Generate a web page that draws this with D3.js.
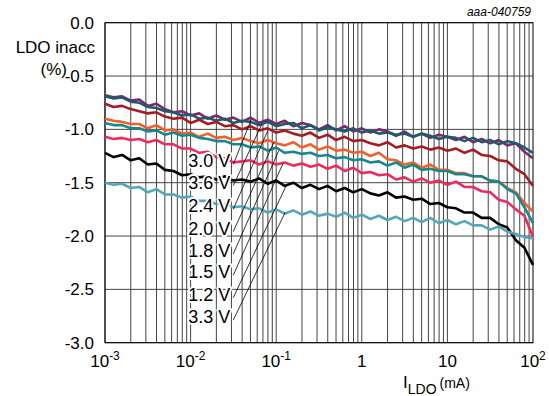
<!DOCTYPE html>
<html>
<head>
<meta charset="utf-8">
<script src="https://cdn.jsdelivr.net/npm/d3@7.9.0/dist/d3.min.js"></script>
<style>
  body { margin: 0; background: #fff; }
  text { font-family: Arial, "Liberation Sans", sans-serif; }
</style>
</head>
<body>
<div id="chart"></div>
<script>
// Data

// log10 of I_LDO (mA), one sample every 0.1 decade
const logI = [
  -3.0, -2.9, -2.8, -2.7, -2.6, -2.5, -2.4, -2.3, -2.2, -2.1,
  -2.0, -1.9, -1.8, -1.7, -1.6, -1.5, -1.4, -1.3, -1.2, -1.1,
  -1.0, -0.9, -0.8, -0.7, -0.6, -0.5, -0.4, -0.3, -0.2, -0.1,
  0.0, 0.1, 0.2, 0.3, 0.4, 0.5, 0.6, 0.7, 0.8, 0.9,
  1.0, 1.1, 1.2, 1.3, 1.4, 1.5, 1.6, 1.7, 1.8, 1.9,
  2.0
];

// LDO inaccuracy (%) per supply voltage
const v30 = [
  -0.68, -0.70, -0.69, -0.73, -0.72, -0.78, -0.76, -0.81, -0.84, -0.83,
  -0.87, -0.85, -0.90, -0.87, -0.91, -0.89, -0.93, -0.89, -0.94, -0.91,
  -0.95, -0.92, -0.97, -0.94, -0.96, -1.00, -0.96, -1.01, -0.97, -1.02,
  -0.99, -1.03, -1.00, -1.02, -1.06, -1.02, -1.07, -1.04, -1.08, -1.05,
  -1.07, -1.10, -1.07, -1.12, -1.09, -1.13, -1.10, -1.15, -1.13, -1.21,
  -1.27
];
const v36 = [
  -0.69, -0.71, -0.70, -0.74, -0.75, -0.79, -0.80, -0.83, -0.84, -0.87,
  -0.86, -0.90, -0.89, -0.92, -0.90, -0.94, -0.92, -0.93, -0.96, -0.93,
  -0.97, -0.95, -0.94, -0.99, -0.96, -1.01, -0.98, -1.00, -1.02, -0.99,
  -1.03, -1.01, -1.04, -1.03, -1.05, -1.04, -1.07, -1.04, -1.06, -1.09,
  -1.07, -1.08, -1.11, -1.08, -1.12, -1.10, -1.14, -1.11, -1.13, -1.17,
  -1.22
];
const v24 = [
  -0.76, -0.79, -0.78, -0.81, -0.83, -0.85, -0.84, -0.88, -0.90, -0.89,
  -0.94, -0.91, -0.95, -0.93, -0.97, -0.96, -1.00, -0.97, -1.01, -0.99,
  -1.03, -1.01, -1.04, -1.06, -1.03, -1.08, -1.05, -1.10, -1.07, -1.11,
  -1.10, -1.13, -1.15, -1.12, -1.17, -1.15, -1.18, -1.16, -1.19, -1.17,
  -1.20, -1.18, -1.22, -1.19, -1.24, -1.25, -1.29, -1.30, -1.37, -1.42,
  -1.53
];
const v20 = [
  -0.90, -0.92, -0.93, -0.95, -0.95, -0.99, -0.96, -1.01, -1.00, -1.04,
  -1.03, -1.07, -1.04, -1.08, -1.07, -1.10, -1.08, -1.11, -1.13, -1.10,
  -1.13, -1.15, -1.12, -1.17, -1.14, -1.19, -1.16, -1.20, -1.19, -1.22,
  -1.21, -1.25, -1.22, -1.28, -1.29, -1.33, -1.31, -1.36, -1.33, -1.38,
  -1.38, -1.41, -1.41, -1.44, -1.44, -1.48, -1.49, -1.55, -1.59, -1.69,
  -1.77
];
const v18 = [
  -0.94, -0.96, -0.96, -0.99, -0.99, -1.02, -1.01, -1.05, -1.03, -1.06,
  -1.05, -1.08, -1.09, -1.11, -1.11, -1.14, -1.14, -1.17, -1.16, -1.20,
  -1.17, -1.22, -1.21, -1.23, -1.22, -1.25, -1.24, -1.27, -1.26, -1.29,
  -1.28, -1.31, -1.30, -1.34, -1.31, -1.36, -1.33, -1.38, -1.37, -1.39,
  -1.39, -1.42, -1.42, -1.44, -1.44, -1.48, -1.49, -1.56, -1.60, -1.73,
  -1.88
];
const v15 = [
  -1.07, -1.09, -1.08, -1.10, -1.09, -1.12, -1.10, -1.14, -1.14, -1.18,
  -1.18, -1.22, -1.21, -1.26, -1.27, -1.31, -1.30, -1.29, -1.33, -1.30,
  -1.33, -1.31, -1.34, -1.32, -1.35, -1.33, -1.37, -1.34, -1.39, -1.36,
  -1.41, -1.40, -1.43, -1.42, -1.47, -1.45, -1.49, -1.46, -1.50, -1.48,
  -1.52, -1.49, -1.54, -1.54, -1.58, -1.59, -1.66, -1.68, -1.75, -1.81,
  -2.01
];
const v12 = [
  -1.22, -1.26, -1.24, -1.29, -1.27, -1.33, -1.32, -1.38, -1.39, -1.43,
  -1.42, -1.45, -1.44, -1.47, -1.44, -1.48, -1.47, -1.49, -1.46, -1.51,
  -1.48, -1.53, -1.50, -1.55, -1.52, -1.56, -1.53, -1.58, -1.55, -1.59,
  -1.56, -1.60, -1.62, -1.59, -1.64, -1.63, -1.66, -1.65, -1.70, -1.69,
  -1.73, -1.74, -1.78, -1.78, -1.83, -1.83, -1.89, -1.92, -2.04, -2.11,
  -2.27
];
const v33 = [
  -1.50, -1.52, -1.51, -1.55, -1.54, -1.59, -1.56, -1.61, -1.61, -1.64,
  -1.63, -1.67, -1.67, -1.70, -1.70, -1.73, -1.72, -1.75, -1.74, -1.78,
  -1.75, -1.79, -1.76, -1.80, -1.77, -1.81, -1.79, -1.82, -1.78, -1.83,
  -1.80, -1.84, -1.81, -1.85, -1.82, -1.86, -1.83, -1.87, -1.83, -1.88,
  -1.85, -1.89, -1.86, -1.90, -1.90, -1.94, -1.91, -1.96, -1.98, -2.01,
  -2.02
];

// label order as printed, top to bottom
const labelNames = ["3.0 V", "3.6 V", "2.4 V", "2.0 V", "1.8 V", "1.5 V", "1.2 V", "3.3 V"];
const labelSeries = [v30, v36, v24, v20, v18, v15, v12, v33];
const lineColors = ["#7c2a6a", "#1e5a6b", "#a51d24", "#f0612a", "#16878c", "#ee2b5d", "#000000", "#55a6b6"];
// where the label text sits (%), and where each leader touches its curve [mA, %]
const labelAt = [-1.30, -1.50, -1.72, -1.93, -2.14, -2.34, -2.55, -2.76];
const leaderEnd = [
  [0.051, -0.91], [0.068, -0.95], [0.080, -1.01], [0.094, -1.12],
  [0.107, -1.20], [0.120, -1.32], [0.134, -1.51], [0.127, -1.78]
];

const yTicks = [0, -0.5, -1.0, -1.5, -2.0, -2.5, -3.0];
const xTickExp = [-3, -2, -1, 0, 1, 2];


// Chart

const width = 549;
const height = 396;
const margin = { top: 22.7, right: 16, bottom: 53.3, left: 105 };

const svg = d3.select("#chart")
  .append("svg")
  .attr("width", width)
  .attr("height", height);

const x = d3.scaleLog()
  .domain([1e-3, 1e2])
  .range([margin.left, width - margin.right]);

const y = d3.scaleLinear()
  .domain([0, -3])
  .range([margin.top, height - margin.bottom]);

// grid: every 1..9 step in each decade
const gridX = [];
xTickExp.forEach((e, i) => {
  if (i === xTickExp.length - 1) return;
  d3.range(1, 10).forEach(m => gridX.push(m * Math.pow(10, e)));
});

svg.append("g")
  .selectAll("line")
  .data(gridX)
  .enter()
  .append("line")
  .attr("x1", d => x(d))
  .attr("x2", d => x(d))
  .attr("y1", y(0))
  .attr("y2", y(-3))
  .attr("stroke", "#444")
  .attr("stroke-width", 1);

svg.append("g")
  .selectAll("line")
  .data(yTicks)
  .enter()
  .append("line")
  .attr("x1", x(1e-3))
  .attr("x2", x(1e2))
  .attr("y1", d => y(d))
  .attr("y2", d => y(d))
  .attr("stroke", "#444")
  .attr("stroke-width", 1);

// frame
svg.append("rect")
  .attr("x", x(1e-3))
  .attr("y", y(0))
  .attr("width", x(1e2) - x(1e-3))
  .attr("height", y(-3) - y(0))
  .attr("fill", "none")
  .attr("stroke", "#000")
  .attr("stroke-width", 1);

// curves
const line = d3.line()
  .x((d, i) => x(Math.pow(10, logI[i])))
  .y(d => y(d));

labelSeries.forEach((vals, k) => {
  svg.append("path")
    .datum(vals)
    .attr("fill", "none")
    .attr("stroke", lineColors[k])
    .attr("stroke-width", 2.6)
    .attr("stroke-linejoin", "round")
    .attr("d", line);
});

// labels with white halo
const labelX = x(0.0094);
svg.append("g")
  .selectAll("text")
  .data(labelNames)
  .enter()
  .append("text")
  .attr("x", labelX)
  .attr("y", (d, i) => y(labelAt[i]) + 6)
  .attr("font-size", 18)
  .attr("fill", "#000")
  .attr("stroke", "#fff")
  .attr("stroke-width", 4)
  .attr("stroke-linejoin", "round")
  .attr("paint-order", "stroke")
  .text(d => d);

// leaders
svg.append("g")
  .selectAll("line")
  .data(leaderEnd)
  .enter()
  .append("line")
  .attr("x1", x(0.0315))
  .attr("y1", (d, i) => y(labelAt[i]) + 3)
  .attr("x2", d => x(d[0]))
  .attr("y2", d => y(d[1]))
  .attr("stroke", "#000")
  .attr("stroke-width", 0.8);

// y tick labels
svg.append("g")
  .selectAll("text")
  .data(yTicks)
  .enter()
  .append("text")
  .attr("x", 94)
  .attr("y", d => y(d) + 6)
  .attr("text-anchor", "end")
  .attr("font-size", 17)
  .text(d => d3.format(".1f")(d).replace("−", "-"));

// y title
svg.append("text")
  .attr("x", 95)
  .attr("y", 53)
  .attr("text-anchor", "end")
  .attr("font-size", 17)
  .text("LDO inacc");
svg.append("text")
  .attr("x", 67)
  .attr("y", 75)
  .attr("text-anchor", "end")
  .attr("font-size", 17)
  .text("(%)");

// x tick labels
const xLab = svg.append("g")
  .selectAll("text")
  .data(xTickExp)
  .enter()
  .append("text")
  .attr("x", d => x(Math.pow(10, d)))
  .attr("y", 367)
  .attr("text-anchor", "middle")
  .attr("font-size", 17);

xLab.each(function(e) {
  const t = d3.select(this);
  if (e === 0) t.text("1");
  else if (e === 1) t.text("10");
  else {
    t.append("tspan").text("10");
    t.append("tspan").attr("dy", -7).attr("font-size", 12).text(e);
  }
});

// x title
const xt = svg.append("text")
  .attr("x", 403)
  .attr("y", 388)
  .attr("font-size", 17);
xt.append("tspan").text("I");
xt.append("tspan").attr("dy", 6).attr("font-size", 14).text("LDO");
xt.append("tspan").attr("dy", -6).attr("dx", 3).attr("font-size", 14).text("(mA)");

// figure id
svg.append("text")
  .attr("x", 531)
  .attr("y", 16)
  .attr("text-anchor", "end")
  .attr("font-size", 12)
  .attr("font-style", "italic")
  .text("aaa-040759");
</script>
</body>
</html>
